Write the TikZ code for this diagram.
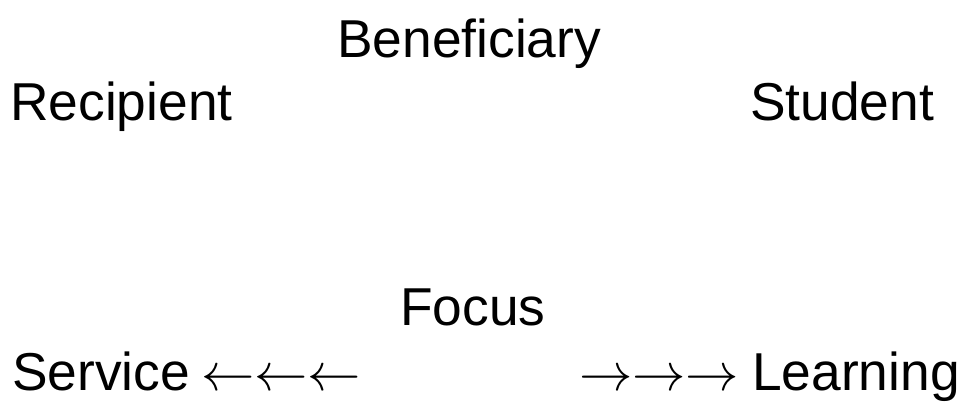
\documentclass[tikz,border=0pt]{standalone}
\usepackage{fontspec}
\setmainfont{Liberation Sans}
\usepackage{tikz}

\tikzset{
  word/.style={inner sep=0pt, anchor=base west, font=\fontsize{40}{48}\selectfont},
  arrs/.style={inner sep=0pt, anchor=base west, font=\fontsize{10}{12}\selectfont, scale=4},
}

\begin{document}
\begin{tikzpicture}[x=0.75pt,y=0.75pt,yscale=-1,xscale=1]
\useasboundingbox (0,0) rectangle (963,403);

% Text Node
\node[word] (benef) at (337,58) {Beneficiary};
% Text Node
\node[word] (recip) at (10,120) {Recipient};
% Text Node
\node[word] (student) at (750,120) {Student};
% Text Node
\node[word] (focus) at (400,325) {Focus};
% Text Node
\node[word] (service) at (12,390) {Service};
% Text Node
\node[arrs] (larr) at (200,390) {$\leftarrow\leftarrow\leftarrow$};
% Text Node
\node[arrs] (rarr) at (578,390) {$\rightarrow\rightarrow\rightarrow$};
% Text Node
\node[word] (learning) at (752,390) {Learning};

\end{tikzpicture}
\end{document}
